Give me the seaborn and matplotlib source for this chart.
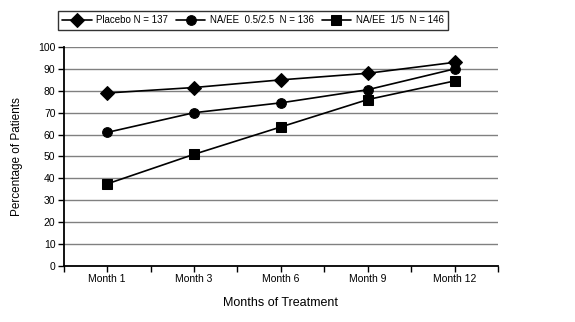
import matplotlib
matplotlib.use("Agg")
import matplotlib.pyplot as plt
import seaborn as sns
import pandas as pd
import numpy as np

months = ["Month 1", "Month 3", "Month 6", "Month 9", "Month 12"]
placebo = [79, 81.5, 85, 88, 93]
naee_low = [61, 70, 74.5, 80.5, 90]
naee_high = [37.5, 51, 63.5, 76, 84.5]
series_names = ["Placebo N = 137", "NA/EE  0.5/2.5  N = 136", "NA/EE  1/5  N = 146"]
y_ticks = list(range(0, 101, 10))

frames = []
for name, vals in zip(series_names, [placebo, naee_low, naee_high]):
    frames.append(pd.DataFrame({"month": months, "pos": np.arange(len(months)),
                                "value": vals, "series": name}))
df = pd.concat(frames, ignore_index=True)

sns.set_theme(style="white")
plt.rcParams["font.family"] = ["Liberation Sans", "DejaVu Sans"]
plt.rcParams["text.color"] = "black"
plt.rcParams["axes.labelcolor"] = "black"
plt.rcParams["xtick.color"] = "black"
plt.rcParams["ytick.color"] = "black"

fig = plt.figure(figsize=(5.75, 3.22), dpi=100)
ax = fig.add_axes([0.111, 0.174, 0.755, 0.680])

sns.lineplot(data=df, x="pos", y="value", hue="series", style="series",
             palette=["black"] * 3,
             markers={series_names[0]: "D", series_names[1]: "o", series_names[2]: "s"},
             dashes=False, markersize=7, linewidth=1.2, markeredgecolor="black",
             ax=ax, legend="full")

ax.set_xlim(-0.5, 4.5)
ax.set_ylim(0, 100)
ax.set_yticks(y_ticks)
ax.set_yticklabels([str(t) for t in y_ticks], fontsize=7.5)
ax.set_xticks(range(len(months)))
ax.set_xticklabels(months, fontsize=7.5)
ax.set_xticks(np.arange(-0.5, 4.6, 1.0), minor=True)
ax.tick_params(axis="both", which="both", direction="out", length=4, width=1, color="black",
               bottom=True, left=True, pad=2)
ax.yaxis.grid(True, color="#808080", linewidth=1.0)
ax.xaxis.grid(False)
ax.set_axisbelow(True)
for side in ["top", "right"]:
    ax.spines[side].set_visible(False)
for side in ["left", "bottom"]:
    ax.spines[side].set_color("black")
    ax.spines[side].set_linewidth(1.3)

ax.set_xlabel("Months of Treatment", fontsize=9, labelpad=9)
ax.set_ylabel("Percentage of Patients", fontsize=8.5, labelpad=11)

handles, labels = ax.get_legend_handles_labels()
ax.legend(handles, labels, ncol=3, loc="upper left", bbox_to_anchor=(58 / 575, 1 - 11 / 322),
          bbox_transform=fig.transFigure, frameon=True, fancybox=False, edgecolor="black",
          fontsize=7.0, handlelength=3.0, handletextpad=0.5, columnspacing=0.8,
          borderpad=0.45, borderaxespad=0)
ax.get_legend().get_frame().set_linewidth(1.0)

fig.savefig("out.png", dpi=100)
